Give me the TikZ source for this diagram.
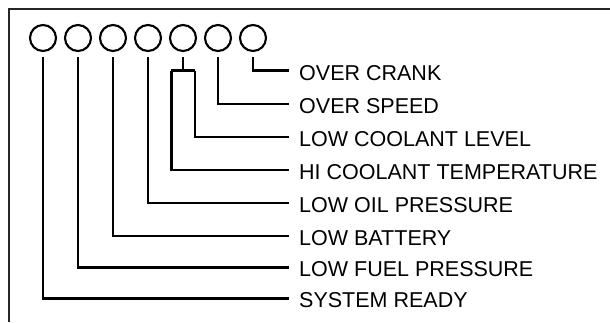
\documentclass[tikz,border=0pt]{standalone}
\usepackage{fontspec}
\setmainfont{Liberation Sans}
\begin{document}
\begin{tikzpicture}[x=1pt,y=1pt,line width=2.4pt,
  every node/.style={font=\fontsize{21.5}{24}\selectfont},
  lamp/.style={circle,draw,line width=2.1pt,minimum size=26pt,inner sep=0pt},
  tag/.style={anchor=west,inner xsep=9.5pt,inner ysep=0pt,text height=19pt,text depth=0pt}]
  \useasboundingbox (0,0) rectangle (610,322);
  \draw[black!85,line width=2pt] (610,312.5) -- (8.5,312.5) -- (8.5,0);
  \foreach \i in {1,...,7}
    \node[lamp] (c\i) at (8+35*\i,284) {};
  % status texts, top to bottom
  \foreach \y/\t [count=\j] in {251.3/OVER CRANK,218/OVER SPEED,185.3/LOW COOLANT LEVEL,
      152/HI COOLANT TEMPERATURE,119.3/LOW OIL PRESSURE,86.3/LOW BATTERY,
      54.7/LOW FUEL PRESSURE,23.7/SYSTEM READY}
    \node[tag] (l\j) at (288.5,\y) {\t};
  \draw ([yshift=-5.4pt]c7.south) |- (l1.west);
  \draw ([yshift=-5.4pt]c6.south) |- (l2.west);
  \coordinate (fork) at (c5 |- l1.west);
  \draw ([yshift=-5.4pt]c5.south) -- (fork);
  \draw ([xshift=11.7pt]fork) |- (l3.west);
  \draw ([xshift=-11.7pt]fork) |- (l4.west);
  \draw ([xshift=-11.7pt]fork) -- ([xshift=11.7pt]fork);
  \draw ([yshift=-5.4pt]c4.south) |- (l5.west);
  \draw ([yshift=-5.4pt]c3.south) |- (l6.west);
  \draw ([yshift=-5.4pt]c2.south) |- (l7.west);
  \draw ([yshift=-5.4pt]c1.south) |- (l8.west);
\end{tikzpicture}
\end{document}
